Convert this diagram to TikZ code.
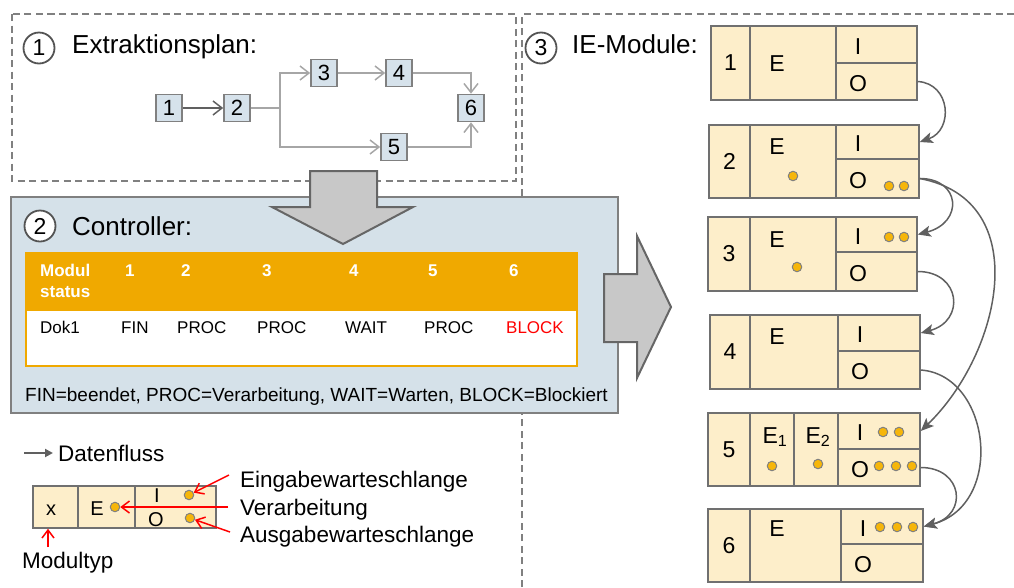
\documentclass[tikz,border=0pt]{standalone}
\usepackage{fontspec}
\setmainfont{Liberation Sans}
\usetikzlibrary{arrows.meta}
\definecolor{fgray}{HTML}{808080}
\definecolor{fblue}{HTML}{D6E2EB}
\definecolor{cblue}{HTML}{D5E1E9}
\definecolor{orng}{HTML}{F0A900}
\definecolor{cream}{HTML}{FDEECA}
\definecolor{dotc}{HTML}{F6B60A}
\definecolor{agray}{HTML}{C8C8C8}
\definecolor{dgray}{HTML}{606060}
\definecolor{lgray}{HTML}{A6A6A6}
\definecolor{cgray}{HTML}{707070}
\newcommand\myfs[1]{\fontsize{#1}{#1}\selectfont}
\newcommand\iemod[8]{%
 \node[cell, minimum width={#3pt-#2pt}, minimum height={#8pt-#6pt}, font=\myfs{23}] (m#1n) at ({(#2+#3)/2},{(#6+#8)/2}) {#1};
 \node[cell, minimum width={#4pt-#3pt}, minimum height={#8pt-#6pt}] (m#1e) at ({(#3+#4)/2},{(#6+#8)/2}) {};
 \node[cell, minimum width={#5pt-#4pt}, minimum height={#7pt-#6pt}] (m#1i) at ({(#4+#5)/2},{(#6+#7)/2}) {};
 \node[cell, minimum width={#5pt-#4pt}, minimum height={#8pt-#7pt}] (m#1o) at ({(#4+#5)/2},{(#7+#8)/2}) {};
 \node[mtxt] (m#1il) at ({#4+22},{(#6+#7)/2+2}) {I};
 \node[mtxt] (m#1ol) at ({#4+22},{(#7+#8)/2+2}) {O};
}
\begin{document}
\begin{tikzpicture}[x=1pt,y=-1pt,
 dashline/.style={draw=fgray, line width=1.3pt, dash pattern=on 7pt off 4.5pt},
 fbox/.style={draw=fgray, fill=fblue, line width=1.6pt, minimum width=26pt, minimum height=27pt, inner sep=0pt, font=\myfs{22}},
 flow/.style={draw=lgray, line width=1.5pt, -{Straight Barb[length=9pt,width=14pt]}},
 flowd/.style={flow, draw=dgray},
 numcirc/.style={circle, draw=black!67, fill=white, line width=1.8pt, minimum size=31pt, inner sep=0pt, font=\myfs{23}},
 ttl/.style={anchor=base west, font=\myfs{26}, inner sep=0pt},
 bigarrow/.style={draw=black!60, fill=agray, line width=2pt, line join=miter},
 ctrlbox/.style={draw=fgray, fill=cblue, line width=2pt, inner sep=0pt},
 hdr/.style={anchor=base west, font=\myfs{17}\bfseries, text=white, inner sep=0pt},
 rowtxt/.style={anchor=base west, font=\myfs{17}, inner sep=0pt},
 cell/.style={draw=cgray, fill=cream, line width=1.5pt, inner sep=0pt},
 mtxt/.style={font=\myfs{23}, inner sep=0pt},
 ltxt/.style={anchor=base, font=\myfs{20}, inner sep=0pt},
 dot/.style={circle, fill=dotc, draw=black!50, line width=1pt, minimum size=9.5pt, inner sep=0pt},
 modarr/.style={draw=dgray, line width=1.5pt, -{Stealth[length=13pt,width=11pt,inset=3pt]}},
 redarr/.style={draw=red, line width=1.5pt, -{Straight Barb[length=8pt,width=12pt]}},
 lbl/.style={anchor=base west, font=\myfs{22.5}, inner sep=0pt}
]
\useasboundingbox (0,0) rectangle (1014,587);

% dashed frames
\draw[dashline] (12,14) rectangle (516,181);
\draw[dashline] (522,587) -- (522,14) -- (1014,14);

% (1) Extraktionsplan
\node[numcirc] (c1) at (39,48) {1};
\node[ttl] (t1) at (72,53) {Extraktionsplan:};
\node[fbox] (f1) at (169,108) {1};
\node[fbox] (f2) at (237,108) {2};
\node[fbox] (f3) at (324,73) {3};
\node[fbox] (f4) at (399,73) {4};
\node[fbox] (f5) at (394,147) {5};
\node[fbox] (f6) at (471,108) {6};
\coordinate (br) at (280,108);
\draw[flowd] (f1) -- (f2);
\draw[flow] (f2) -- (br) |- (f3);
\draw[flow] (br) |- (f5);
\draw[flow] (f3) -- (f4);
\draw[flow] (f4) -| (f6);
\draw[flow] (f5) -| (f6);

% (2) Controller
\node[ctrlbox, minimum width=607pt, minimum height=216pt] (ctrl) at (314.5,305) {};
\node[numcirc] (c2) at (40,226) {2};
\node[ttl] (t2) at (72,235) {Controller:};
\draw[draw=orng, fill=white, line width=2.5pt] (26,310) rectangle (577,366);
\fill[orng] (25,252) rectangle (578,311);
\node[hdr] (h0a) at (40,276) {Modul};
\node[hdr] (h0b) at (40,297) {status};
\node[hdr] (h1) at (125,276) {1};
\node[hdr] (h2) at (181,276) {2};
\node[hdr] (h3) at (262,276) {3};
\node[hdr] (h4) at (349,276) {4};
\node[hdr] (h5) at (428,276) {5};
\node[hdr] (h6) at (509,276) {6};
\node[rowtxt] (r0) at (40,333) {Dok1};
\node[rowtxt] (r1) at (121,333) {FIN};
\node[rowtxt] (r2) at (177,333) {PROC};
\node[rowtxt] (r3) at (257,333) {PROC};
\node[rowtxt] (r4) at (345,333) {WAIT};
\node[rowtxt] (r5) at (424,333) {PROC};
\node[rowtxt, text=red] (r6) at (506,333) {BLOCK};
\node[rowtxt, font=\myfs{19}] (leg) at (25,401) {FIN=beendet, PROC=Verarbeitung, WAIT=Warten, BLOCK=Blockiert};

% big arrows
\draw[bigarrow] (310,171) -- (377,171) -- (377,207) -- (413,207) -- (343,244) -- (272,207) -- (310,207) -- cycle;
\draw[bigarrow] (604,274) -- (637,274) -- (637,236) -- (671,307) -- (637,378) -- (637,342) -- (604,342) -- cycle;

% legend
\coordinate (dfa) at (24,453);
\coordinate (dfb) at (53,453);
\draw[draw=dgray, line width=2pt, -{Triangle[length=8pt,width=8pt]}] (dfa) -- (dfb);
\node[lbl, anchor=west] (dfl) at (58,453) {Datenfluss};
\node[cell, minimum width=45pt, minimum height=42pt] (lx) at (55.5,507) {};
\node[cell, minimum width=57pt, minimum height=42pt] (le) at (106.5,507) {};
\node[cell, minimum width=81pt, minimum height=21pt] (li) at (175.5,496.5) {};
\node[cell, minimum width=81pt, minimum height=21pt] (lo) at (175.5,517.5) {};
\node[ltxt] (lxl) at (51,515) {x};
\node[ltxt] (lel) at (97,515) {E};
\node[ltxt] (lil) at (157,502) {I};
\node[ltxt] (lol) at (156,526) {O};
\node[dot] (lde) at (115,507) {};
\node[dot] (ldi) at (189,495) {};
\node[dot] (ldo) at (190,518) {};
\coordinate (ra) at (229,475);
\coordinate (rb) at (228,507);
\coordinate (rc) at (230,532);
\coordinate (rd) at (48,547);
\draw[redarr] (ra) -- (ldi);
\draw[redarr] (rb) -- (lde);
\draw[redarr] (rc) -- (ldo);
\draw[redarr] (rd) -- (rd |- lx.south);
\node[lbl] (l1) at (240,487) {Eingabewarteschlange};
\node[lbl] (l2) at (240,515) {Verarbeitung};
\node[lbl] (l3) at (240,542) {Ausgabewarteschlange};
\node[lbl] (l4) at (22,568) {Modultyp};

% (3) IE-Module
\node[numcirc] (c3) at (541,48) {3};
\node[ttl] (t3) at (572,53) {IE-Module:};
\iemod{1}{711}{750}{836}{917}{26}{63}{100}
\iemod{2}{709}{750}{836}{919}{125}{159}{198}
\iemod{3}{708}{750}{836}{917}{217}{252}{291}
\iemod{4}{710}{750}{838}{920}{315}{351}{389}
\iemod{5}{708}{750}{838}{920}{413}{449}{486}
\iemod{6}{708}{750}{841}{923}{509}{544}{582}
\node[cell, minimum width=44pt, minimum height=73pt] (m5e1) at (772,449.5) {};
\node[cell, minimum width=44pt, minimum height=73pt] (m5e2) at (816,449.5) {};
\node[mtxt] (m1el) at (777,64) {E};
\node[mtxt] (m2el) at (777,147) {E};
\node[mtxt] (m3el) at (777,240) {E};
\node[mtxt] (m4el) at (777,337) {E};
\node[mtxt] (m5el1) at (775,437) {E\textsubscript{1}};
\node[mtxt] (m5el2) at (818,437) {E\textsubscript{2}};
\node[mtxt] (m6el) at (777,529) {E};
% dots
\node[dot] (d2e) at (793,176) {};
\node[dot] (d2o1) at (889,186) {};
\node[dot] (d2o2) at (904,186) {};
\node[dot] (d3e) at (797,267) {};
\node[dot] (d3i1) at (889,237) {};
\node[dot] (d3i2) at (904,237) {};
\node[dot] (d5e1) at (772,466) {};
\node[dot] (d5e2) at (818,464) {};
\node[dot] (d5i1) at (883,432) {};
\node[dot] (d5i2) at (899,432) {};
\node[dot] (d5o1) at (879,466) {};
\node[dot] (d5o2) at (896,466) {};
\node[dot] (d5o3) at (912,466) {};
\node[dot] (d6i1) at (880,527) {};
\node[dot] (d6i2) at (897,527) {};
\node[dot] (d6i3) at (913,527) {};
% data flow between modules
\draw[modarr] (m1o.east) .. controls +(33,2) and +(34,-12) .. (m2i.east);
\draw[modarr] (m2o.east) .. controls +(41,0) and +(46,-12) .. (m3i.east);
\draw[modarr] (m2o.east) .. controls +(116,22) and +(80,-77) .. (m5i.east);
\draw[modarr] (m3o.east) .. controls +(43,0) and +(45,-12) .. (m4i.east);
\draw[modarr] (m4o.east) .. controls +(70,5) and +(82,-22) .. (m6i.east);
\draw[modarr] (m5o.east) .. controls +(42,0) and +(45,-12) .. (m6i.east);
\end{tikzpicture}
\end{document}
